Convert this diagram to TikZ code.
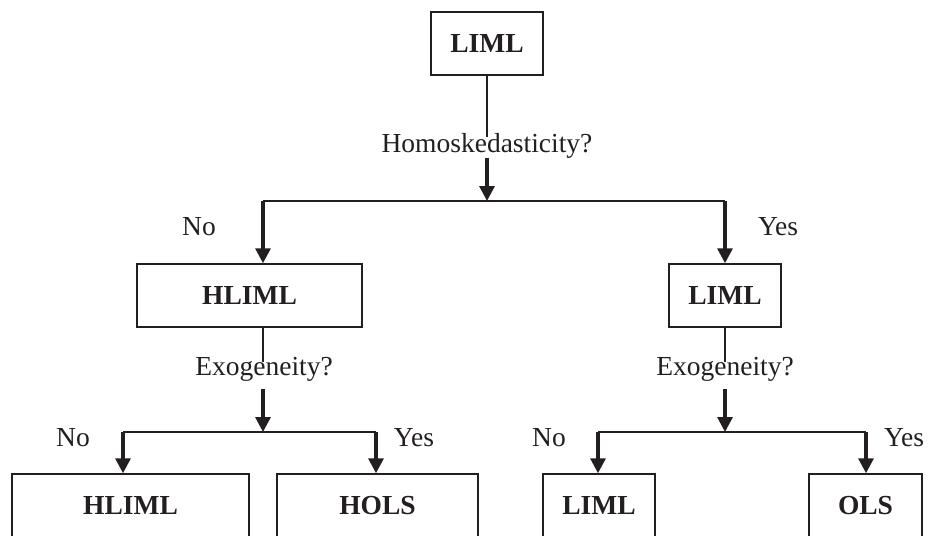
\documentclass[tikz,border=0pt]{standalone}
\usepackage{fontspec}
\setmainfont{Liberation Serif}
\usetikzlibrary{arrows.meta}
\definecolor{ink}{HTML}{231F20}
\begin{document}
\begin{tikzpicture}[x=1pt,y=-1pt,
  every node/.style={text=ink, font=\fontsize{27.5}{33}\selectfont},
  box/.style={draw=ink, line width=1.5pt, minimum height=63pt, inner sep=0pt, font=\fontsize{27.5}{33}\selectfont\bfseries},
  lbl/.style={inner sep=0pt},
  thin/.style={draw=ink, line width=1.7pt},
  arr/.style={draw=ink, line width=3.2pt, -{Triangle[width=15pt,length=15pt]}, shorten >=0pt}]
\useasboundingbox (0,0) rectangle (928,535);
\clip (0,0) rectangle (928,535);
% boxes
\node[box, minimum width=112pt] (top) at (487,43.5) {LIML};
\node[box, minimum width=225pt] (HL) at (249.5,295.5) {HLIML};
\node[box, minimum width=112pt] (LR) at (725,295.5) {LIML};
\node[box, minimum width=237pt] (B1) at (130.5,505.5) {HLIML};
\node[box, minimum width=201pt] (B2) at (377.5,505.5) {HOLS};
\node[box, minimum width=112pt] (B3) at (599,505.5) {LIML};
\node[box, minimum width=113pt] (B4) at (865.5,505.5) {OLS};
% questions
\node[lbl] (q1) at (487,146) {Homoskedasticity?};
\node[lbl] (q2) at (264,369) {Exogeneity?};
\node[lbl] (q3) at (725,369) {Exogeneity?};
% labels
\node[lbl] (n1) at (199,227) {No};
\node[lbl] (y1) at (778,227) {Yes};
\node[lbl] (n2) at (73,438) {No};
\node[lbl] (y2) at (414,438) {Yes};
\node[lbl] (n3) at (549,438) {No};
\node[lbl] (y3) at (904,438) {Yes};
% coordinates
\coordinate (t1) at (487,137);
\coordinate (s1) at (487,158);
\coordinate (j1) at (487,201);
\coordinate (L1) at (263,201);
\coordinate (R1) at (725,201);
\coordinate (t2) at (263,362);
\coordinate (s2) at (263,389);
\coordinate (j2) at (263,432);
\coordinate (L2) at (123,432);
\coordinate (R2) at (376,432);
\coordinate (t3) at (725,362);
\coordinate (s3) at (725,389);
\coordinate (j3) at (725,432);
\coordinate (L3) at (598,432);
\coordinate (R3) at (866,432);
% connectors
\draw[thin] (top.south) -- (t1);
\draw[arr] (s1) -- (j1);
\draw[thin] (L1) -- (R1);
\draw[arr] (L1) -- (L1 |- HL.north);
\draw[arr] (R1) -- (LR.north);
\draw[thin] (L1 |- HL.south) -- (t2);
\draw[arr] (s2) -- (j2);
\draw[thin] (L2) -- (R2);
\draw[arr] (L2) -- (L2 |- B1.north);
\draw[arr] (R2) -- (R2 |- B2.north);
\draw[thin] (LR.south) -- (t3);
\draw[arr] (s3) -- (j3);
\draw[thin] (L3) -- (R3);
\draw[arr] (L3) -- (L3 |- B3.north);
\draw[arr] (R3) -- (R3 |- B4.north);
\end{tikzpicture}
\end{document}
